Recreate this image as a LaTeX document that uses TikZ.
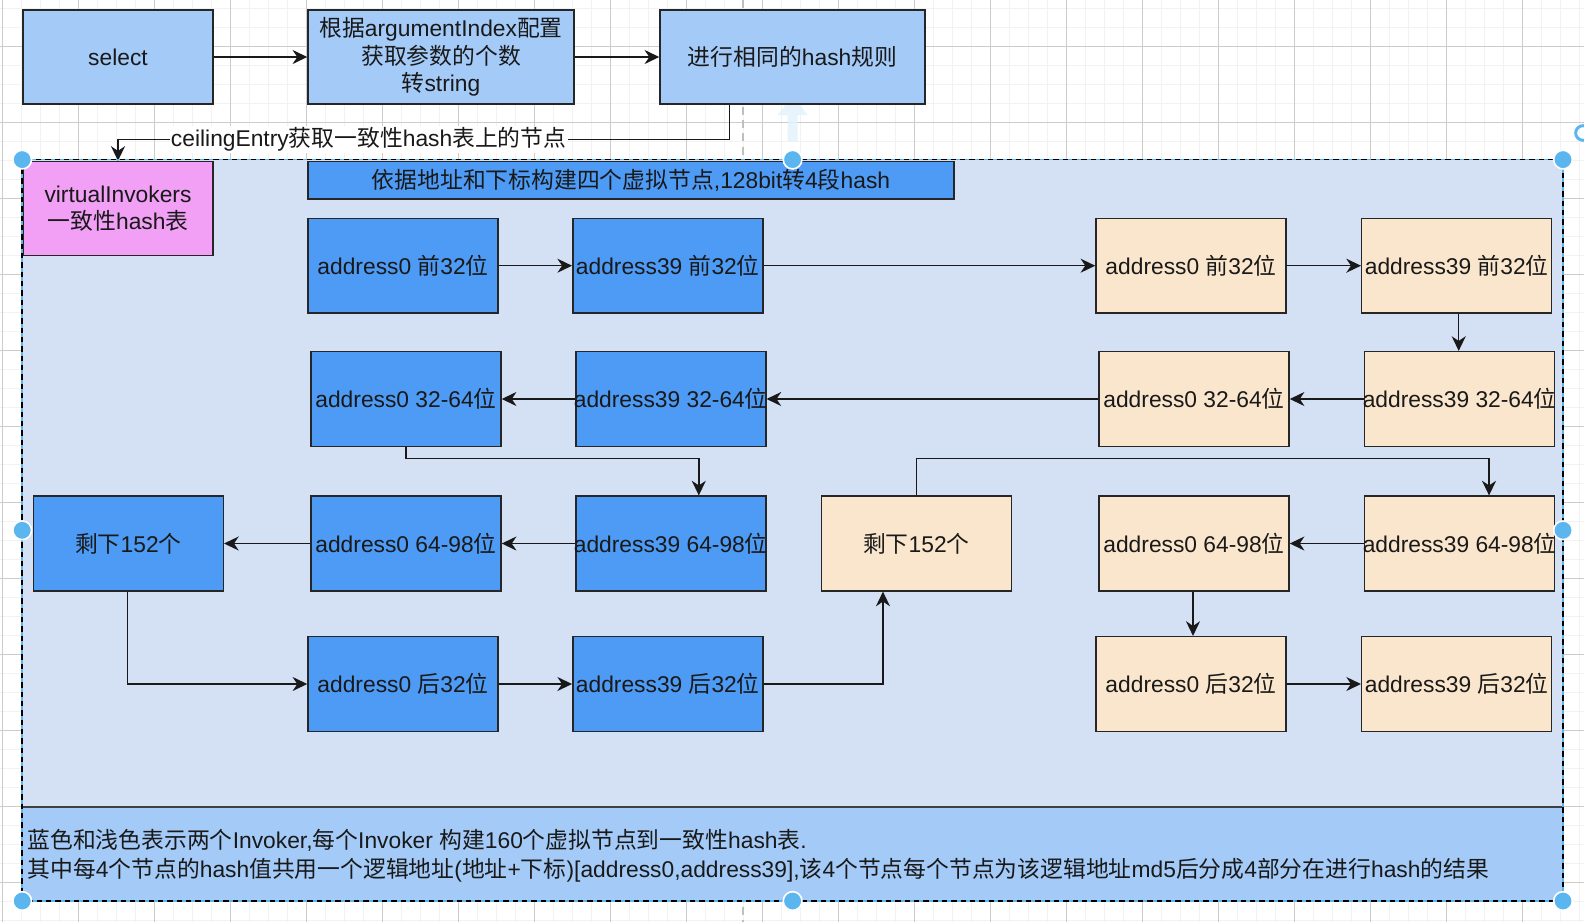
\documentclass[tikz,border=0pt]{standalone}
\usepackage{fontspec}
\setmainfont{Liberation Sans}
\newfontfamily\cjkfont{Noto Sans CJK SC}
\usetikzlibrary{arrows.meta}
\XeTeXinterchartokenstate=1
\newXeTeXintercharclass\CJKcls
\count255="4E00
\loop\ifnum\count255<"A000 \XeTeXcharclass\count255=\CJKcls\relax \advance\count255 by 1 \repeat
\XeTeXinterchartoks 0 \CJKcls={\cjkfont}
\XeTeXinterchartoks 4095 \CJKcls={\cjkfont}
\XeTeXinterchartoks \CJKcls 0={\rmfamily}
\XeTeXinterchartoks \CJKcls 4095={\rmfamily}
\newcommand\fs{\fontsize{17.1}{20.8}\selectfont}
\newcommand\ov[1]{\makebox[130pt]{#1}}
\definecolor{lb}{HTML}{A4CAF8}
\definecolor{sb}{HTML}{4D9BF5}
\definecolor{bgc}{HTML}{D4E1F5}
\definecolor{be}{HTML}{FAE6CD}
\definecolor{vi}{HTML}{F1A0F5}
\definecolor{hd}{HTML}{5BB5EE}
\begin{document}
\begin{tikzpicture}[x=0.75pt,y=-0.75pt,
  box/.style={draw=black!85, line width=1.1pt, inner sep=0pt, align=center, font=\fs, text=black!90, minimum width=142.5pt, minimum height=71pt},
  lightbox/.style={box, fill=lb},
  bluebox/.style={box, fill=sb},
  beigebox/.style={box, fill=be},
  arr/.style={-{Stealth[length=11pt,width=10.5pt,inset=3.5pt]}, line width=1.1pt, black!90},
  gridminor/.style={black!5, line width=1.1pt},
  gridmajor/.style={black!20, line width=0.7pt},
  handle/.style={fill=hd, draw=white, line width=1.2pt}]
\useasboundingbox (0,0) rectangle (1584,922);
\fill[white] (0,0) rectangle (1584,922);
% grid
\foreach \i in {0,...,83} \draw[gridminor] ({2.3+19*\i},0) -- ({2.3+19*\i},922);
\foreach \j in {0,...,48} \draw[gridminor] (0,{8.3+19*\j}) -- (1584,{8.3+19*\j});
\foreach \i in {0,...,20} \draw[gridmajor] ({2.3+76*\i},0) -- ({2.3+76*\i},922);
\foreach \j in {0,...,11} \draw[gridmajor] (0,{46.3+76*\j}) -- (1584,{46.3+76*\j});
\draw[black!25, dashed, dash pattern=on 6pt off 4pt, line width=1.2pt] (742.7,0) -- (742.7,922);
% container
\fill[bgc] (22.2,159.6) rectangle (1563,901);
\fill[lb] (22.2,807) rectangle (1563,901);
\draw[black!75, line width=1.1pt] (22.2,807) -- (1563,807);
% faint hover arrow
\fill[hd!18, opacity=0.8] (787.7,141.7) -- (797.7,141.7) -- (797.7,115) -- (807.5,115) -- (792.7,95) -- (777.8,115) -- (787.7,115) -- cycle;
% top row
\node[lightbox, minimum height=70.5pt] (select) at (118,57) {select};
\node[lightbox, minimum width=199.5pt, minimum height=70.5pt] (gen) at (441,57) {根据argumentIndex配置\\获取参数的个数\\转string};
\node[lightbox, minimum width=198.75pt, minimum height=70.5pt] (rule) at (792.5,57) {进行相同的hash规则};
\node[box, fill=vi, minimum height=70.5pt] (vinv) at (118,208.6) {virtualInvokers\\一致性hash表};
\node[bluebox, minimum width=484.2pt, minimum height=28.1pt] (banner) at (631,180.3) {依据地址和下标构建四个虚拟节点,128bit转4段hash};
% row 1
\node[bluebox] (b1a) at (403,265.7) {\ov{address0 前32位}};
\node[bluebox] (b1b) at (667.8,265.7) {\ov{address39 前32位}};
\node[beigebox] (y1a) at (1191,265.7) {\ov{address0 前32位}};
\node[beigebox] (y1b) at (1456.7,265.7) {\ov{address39 前32位}};
% row 2
\node[bluebox] (b2a) at (406,399) {\ov{address0 32-64位}};
\node[bluebox] (b2b) at (670.8,399) {\ov{address39 32-64位}};
\node[beigebox] (y2a) at (1194,399) {\ov{address0 32-64位}};
\node[beigebox] (y2b) at (1459.7,399) {\ov{address39 32-64位}};
% row 3
\node[bluebox] (brest) at (128.3,543.5) {剩下152个};
\node[bluebox] (b3a) at (406,543.5) {\ov{address0 64-98位}};
\node[bluebox] (b3b) at (670.8,543.5) {\ov{address39 64-98位}};
\node[beigebox] (yrest) at (916.3,543.5) {剩下152个};
\node[beigebox] (y3a) at (1194,543.5) {\ov{address0 64-98位}};
\node[beigebox] (y3b) at (1459.7,543.5) {\ov{address39 64-98位}};
% row 4
\node[bluebox] (b4a) at (403,684) {\ov{address0 后32位}};
\node[bluebox] (b4b) at (667.8,684) {\ov{address39 后32位}};
\node[beigebox] (y4a) at (1191,684) {\ov{address0 后32位}};
\node[beigebox] (y4b) at (1456.7,684) {\ov{address39 后32位}};
% bottom text
\node[anchor=west, align=left, font=\fontsize{17.1}{21.8}\selectfont, text=black!90, inner sep=0pt] (note) at (27.3,855.5)
  {蓝色和浅色表示两个Invoker,每个Invoker 构建160个虚拟节点到一致性hash表.\\其中每4个节点的hash值共用一个逻辑地址(地址+下标)[address0,address39],该4个节点每个节点为该逻辑地址md5后分成4部分在进行hash的结果};
% connectors
\coordinate (lvlA) at (0,139.4);
\coordinate (lvlB) at (0,458.6);
\draw[arr] (select) -- (gen);
\draw[arr] (gen) -- (rule);
\draw[arr] ([xshift=-47.4pt]rule.south) -- ([xshift=-47.4pt]rule.south |- lvlA) -- (vinv.north |- lvlA)
  node[pos=0.59, fill=white, inner sep=1pt, font=\fs, text=black!90] {ceilingEntry获取一致性hash表上的节点} -- (vinv.north);
\draw[arr] (b1a) -- (b1b);
\draw[arr] (b1b) -- (y1a);
\draw[arr] (y1a) -- (y1b);
\draw[arr] ([xshift=1.5pt]y1b.south) -- ([xshift=1.5pt]y1b.south |- y2b.north);
\draw[arr] (y2b) -- (y2a);
\draw[arr] (y2a) -- (b2b);
\draw[arr] (b2b) -- (b2a);
\draw[arr] (b2a.south) -- (b2a.south |- lvlB) -| ([xshift=21pt]b3b.north);
\draw[arr] (b3b) -- (b3a);
\draw[arr] (b3a) -- (brest);
\draw[arr] ([xshift=-0.75pt]brest.south) |- (b4a.west);
\draw[arr] (b4a) -- (b4b);
\draw[arr] (b4b.east) -| ([xshift=-25pt]yrest.south);
\draw[arr] (yrest.north) -- (yrest.north |- lvlB) -| ([xshift=22pt]y3b.north);
\draw[arr] (y3b) -- (y3a);
\draw[arr] ([xshift=-0.75pt]y3a.south) -- ([xshift=-0.75pt]y3a.south |- y4a.north);
\draw[arr] (y4a) -- (y4b);
% container border
\draw[hd, line width=1.1pt] (22.2,159.6) rectangle (1563,901);
\draw[black, line width=1.1pt, dash pattern=on 4pt off 3pt] (22.2,159.6) rectangle (1563,901);
% handles
\foreach \p in {(22.2,159.6),(792.6,159.6),(1563,159.6),(22.2,530.3),(1563,530.3),(22.2,901),(792.6,901),(1563,901)}
  \filldraw[handle] \p circle (7pt);
\draw[hd, line width=2.2pt] (1583,133) circle (5.5pt);
\end{tikzpicture}
\end{document}
